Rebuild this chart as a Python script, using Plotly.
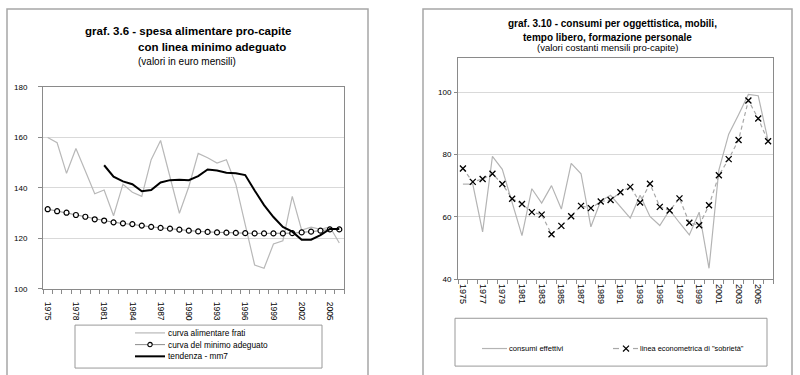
import plotly.graph_objects as go

# ---------------- data ----------------
years = list(range(1975, 2007))

# graf. 3.6 (left)
frati = [160.0, 157.9, 145.8, 155.6, 146.7, 137.7, 139.2, 129.0, 141.5, 138.3,
         136.7, 151.2, 158.8, 144.4, 130.0, 140.5, 153.7, 152.0, 149.9, 151.2,
         141.5, 125.5, 109.5, 108.2, 117.8, 119.1, 136.7, 123.3, 124.5, 123.6,
         124.6, 118.2]
minimo = [131.6, 130.8, 130.2, 129.3, 128.6, 127.6, 127.1, 126.4, 126.0, 125.7,
          125.1, 124.6, 124.2, 123.9, 123.5, 123.1, 122.8, 122.6, 122.4, 122.3,
          122.2, 122.1, 122.0, 122.0, 122.0, 122.0, 122.1, 122.4, 122.7, 123.1,
          123.6, 123.6]
mm7 = [None, None, None, None, None, None,
       149.0, 144.5, 142.6, 141.5, 138.7, 139.2, 142.2, 143.1, 143.3, 143.1,
       144.7, 147.3, 146.9, 146.0, 145.8, 145.1, 139.0, 133.2, 128.5, 124.6,
       122.7, 119.5, 119.5, 121.3, 123.8, 123.8]
left_ticks = list(range(1975, 2007, 3))
left_yticks = [100, 120, 140, 160, 180]

# graf. 3.10 (right)
consumi = [70.5, 70.5, 55.2, 79.4, 75.2, 64.6, 54.0, 69.0, 64.4, 70.0,
           62.5, 77.1, 73.8, 56.8, 65.1, 66.9, 63.2, 59.6, 66.9, 60.1,
           57.2, 62.2, 58.1, 54.2, 61.5, 43.5, 75.0, 86.5, 92.7, 99.2,
           98.8, 84.4]
sobrieta = [75.5, 71.2, 72.1, 73.8, 70.5, 65.8, 64.1, 61.5, 60.7, 54.4,
            57.1, 60.2, 63.5, 62.8, 64.9, 65.4, 67.9, 69.6, 64.6, 70.6,
            63.2, 62.0, 65.9, 58.1, 57.3, 63.7, 73.3, 78.5, 84.6, 97.3,
            91.5, 84.2]
right_ticks = list(range(1975, 2007, 2))
right_yticks = [40, 60, 80, 100]

# ---------------- helpers ----------------
W, H = 800, 375
FONT = "Liberation Sans, Arial, sans-serif"


def px(x):
    return x / W


def py(y):
    return 1 - y / H


fig = go.Figure()

# left chart traces
fig.add_trace(go.Scatter(x=years, y=frati, mode="lines", name="curva alimentare frati",
                         line=dict(color="#b8b8b8", width=1.2), xaxis="x", yaxis="y",
                         showlegend=False))
fig.add_trace(go.Scatter(x=years, y=minimo, mode="lines+markers", name="curva del minimo adeguato",
                         line=dict(color="#8c8c8c", width=1),
                         marker=dict(symbol="circle", size=5, color="white",
                                     line=dict(color="black", width=1.2)),
                         xaxis="x", yaxis="y", showlegend=False))
fig.add_trace(go.Scatter(x=years, y=mm7, mode="lines", name="tendenza - mm7",
                         line=dict(color="black", width=2), xaxis="x", yaxis="y",
                         showlegend=False, connectgaps=False))

# right chart traces
fig.add_trace(go.Scatter(x=years, y=consumi, mode="lines", name="consumi effettivi",
                         line=dict(color="#b4b4b4", width=1.2), xaxis="x2", yaxis="y2",
                         showlegend=False))
fig.add_trace(go.Scatter(x=years, y=sobrieta, mode="lines+markers",
                         name='linea econometrica di "sobrietà"',
                         line=dict(color="#a8a8a8", width=1.2, dash="4px,3px"),
                         marker=dict(symbol="x-thin", size=6, color="black",
                                     line=dict(color="black", width=1.3)),
                         xaxis="x2", yaxis="y2", showlegend=False))

AX = "#8a8a8a"
GRID = "#d9d9d9"

common_x = dict(showgrid=False, zeroline=False, showline=True, mirror=True,
                linecolor=AX, linewidth=1, ticks="", tickangle=90,
                minor=dict(tick0=1974.5, dtick=1, ticks="outside", ticklen=4,
                           tickcolor=AX, showgrid=False),
                range=[1974.5, 2006.5])
common_y = dict(showgrid=True, gridcolor=GRID, gridwidth=1, zeroline=False,
                showline=True, mirror=True, linecolor=AX, linewidth=1,
                ticks="outside", ticklen=4, tickcolor=AX)

fig.update_layout(
    width=W, height=H, autosize=False,
    margin=dict(l=0, r=0, t=0, b=0),
    paper_bgcolor="white", plot_bgcolor="white",
    font=dict(family=FONT, color="black"),
    showlegend=False,
    xaxis=dict(domain=[px(43), px(344)], anchor="y",
               tickvals=left_ticks, ticktext=[str(t) for t in left_ticks],
               tickfont=dict(size=8.5, family=FONT), ticklabelstandoff=10, **common_x),
    yaxis=dict(domain=[py(292), py(85)], anchor="x", range=[100, 180],
               tickvals=left_yticks, tickfont=dict(size=8, family=FONT),
               ticklabelstandoff=9, **common_y),
    xaxis2=dict(domain=[px(458), px(773)], anchor="y2",
                tickvals=right_ticks, ticktext=[str(t) for t in right_ticks],
                tickfont=dict(size=9, family=FONT), ticklabelstandoff=2, **common_x),
    yaxis2=dict(domain=[py(282), py(55)], anchor="x2", range=[40, 111],
                tickvals=right_yticks, tickfont=dict(size=8, family=FONT),
                ticklabelstandoff=1, **{**common_y, "ticklen": 3}),
)

shapes = []
# outer chart frames
shapes.append(dict(type="rect", xref="paper", yref="paper", x0=px(7), x1=px(368),
                   y0=py(385), y1=py(5), line=dict(color="#a6a6a6", width=1.5)))
shapes.append(dict(type="rect", xref="paper", yref="paper", x0=px(423), x1=px(792),
                   y0=py(385), y1=py(5), line=dict(color="#a6a6a6", width=1.5)))
# legend boxes
shapes.append(dict(type="rect", xref="paper", yref="paper", x0=px(75), x1=px(322),
                   y0=py(373), y1=py(329), line=dict(color="#999999", width=1)))
shapes.append(dict(type="rect", xref="paper", yref="paper", x0=px(455), x1=px(767),
                   y0=py(371), y1=py(322), line=dict(color="#999999", width=1)))


def hline(x0, x1, y, color, width, dash="solid"):
    shapes.append(dict(type="line", xref="paper", yref="paper", x0=px(x0), x1=px(x1),
                       y0=py(y), y1=py(y), line=dict(color=color, width=width, dash=dash)))


# left legend samples
rows = [337, 349, 361]
hline(135, 165, rows[0], "#b8b8b8", 1.2)
hline(135, 165, rows[1], "#8c8c8c", 1)
shapes.append(dict(type="circle", xref="paper", yref="paper", xsizemode="pixel",
                   ysizemode="pixel", xanchor=px(150), yanchor=py(rows[1]),
                   x0=-2.2, x1=2.2, y0=-2.2, y1=2.2, fillcolor="white",
                   line=dict(color="black", width=1.1)))
hline(135, 165, rows[2], "black", 2)

# right legend samples
ry = 353
hline(482, 507, ry, "#b4b4b4", 1.2)
hline(613, 619, ry, "#a8a8a8", 1.2)
hline(633, 638, ry, "#a8a8a8", 1.2)
for (a, b) in [((623, ry - 3), (629, ry + 3)), ((623, ry + 3), (629, ry - 3))]:
    shapes.append(dict(type="line", xref="paper", yref="paper", x0=px(a[0]), y0=py(a[1]),
                       x1=px(b[0]), y1=py(b[1]), line=dict(color="black", width=1.2)))

fig.update_layout(shapes=shapes)

annotations = []


def text(x, y, s, size, anchor="center"):
    annotations.append(dict(x=px(x), y=py(y), xref="paper", yref="paper", text=s,
                            showarrow=False, xanchor=anchor, yanchor="middle",
                            font=dict(size=size, family=FONT, color="black")))


# left titles
text(188, 28, "<b>graf. 3.6 - spesa alimentare pro-capite</b>", 11.5)
text(212, 44, "<b>con linea minimo adeguato</b>", 11.5)
text(187, 59, "(valori in euro mensili)", 10)
# right titles
text(612, 20, "<b>graf. 3.10 - consumi per oggettistica, mobili,</b>", 10)
text(607, 34, "<b>tempo libero, formazione personale</b>", 10)
text(608, 45, "(valori costanti mensili pro-capite)", 9.5)

# legend labels
text(166, rows[0], "curva alimentare frati", 8.3, "left")
text(166, rows[1], "curva del minimo adeguato", 8.3, "left")
text(166, rows[2], "tendenza - mm7", 8.3, "left")
text(507, ry, "consumi effettivi", 7.6, "left")
text(638, ry, 'linea econometrica di "sobrietà"', 7.4, "left")

fig.update_layout(annotations=annotations)

fig.write_html("out.html", post_script="document.body.style.margin='0';",
               config={"displayModeBar": False})
